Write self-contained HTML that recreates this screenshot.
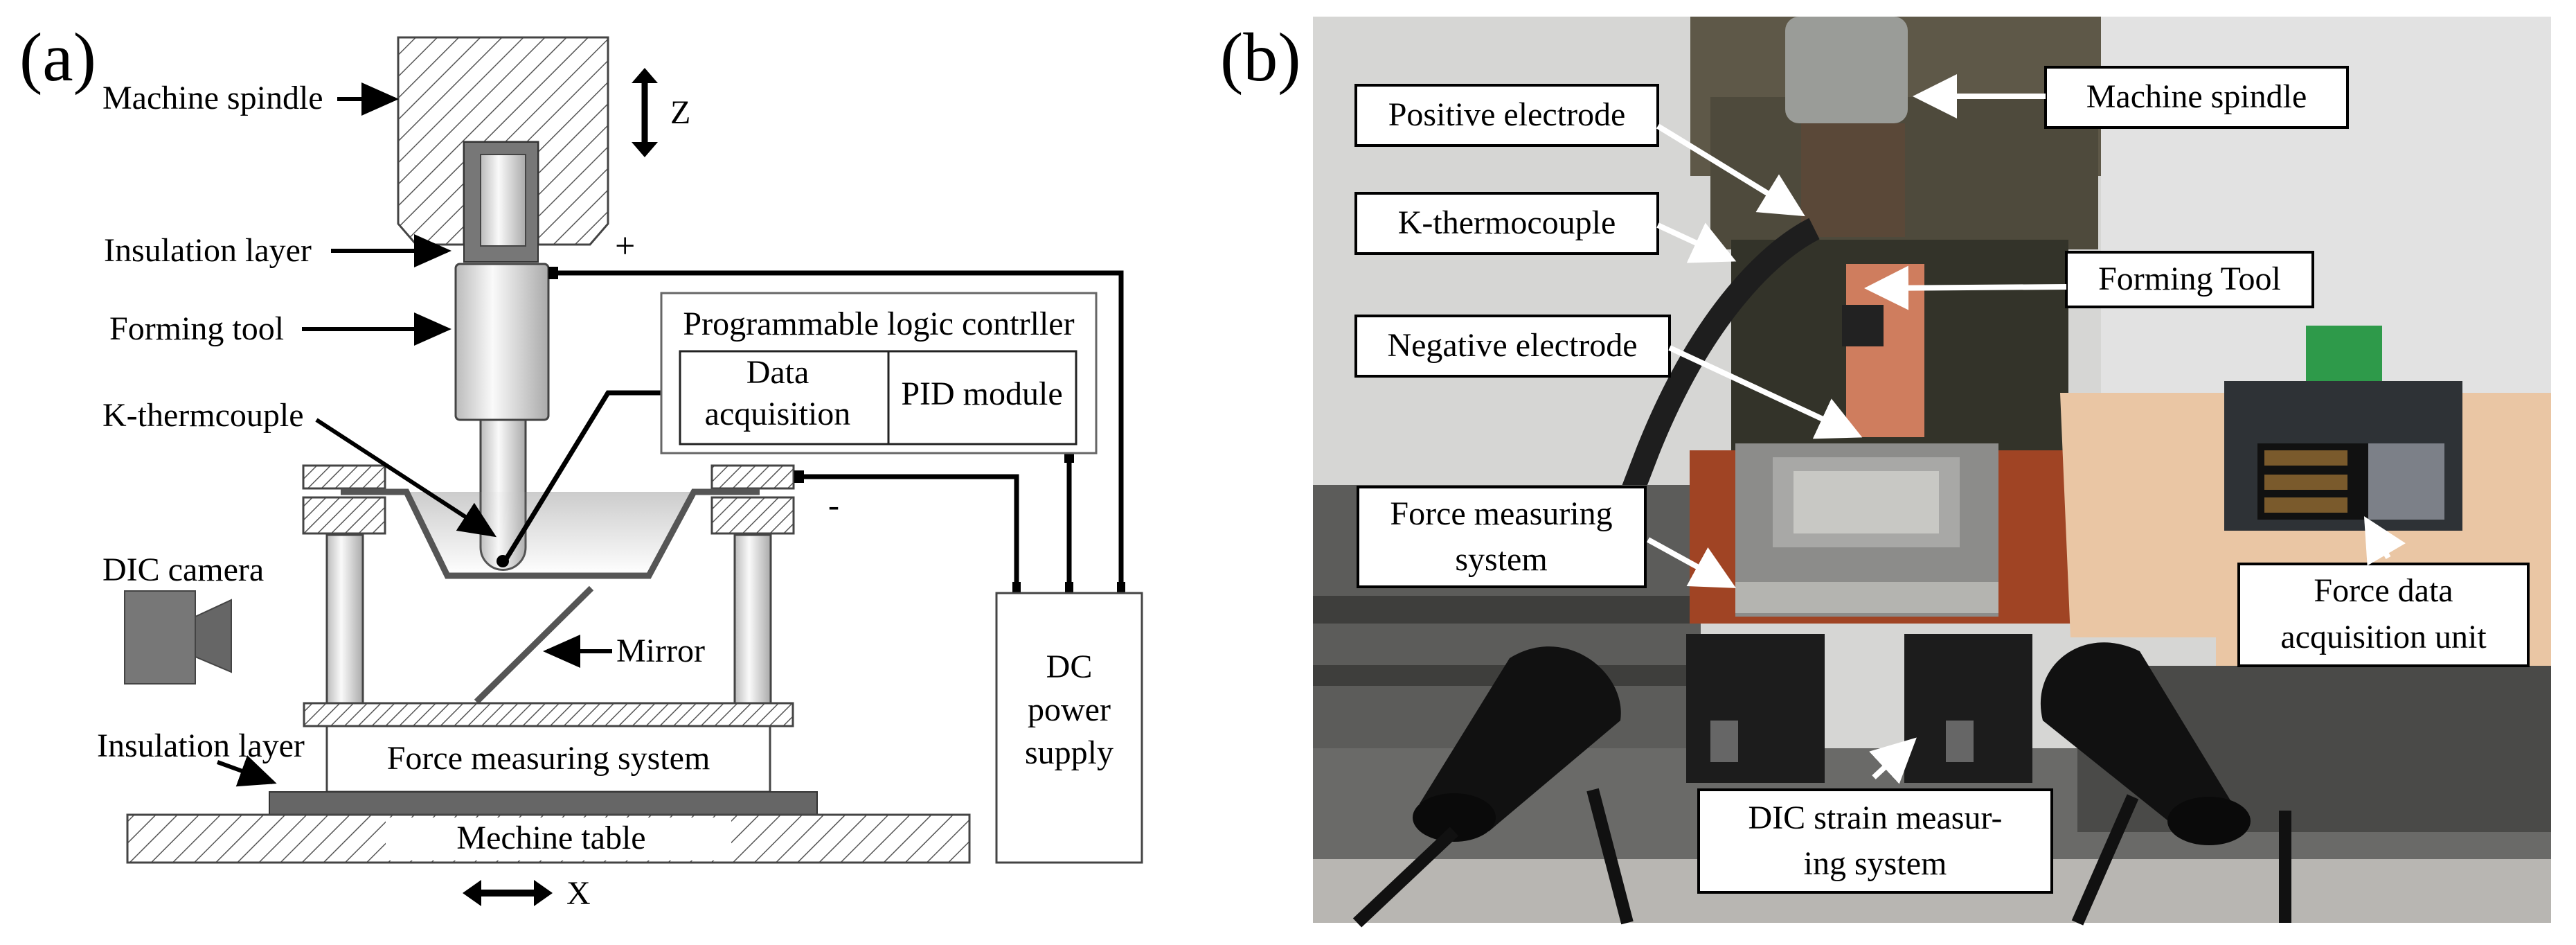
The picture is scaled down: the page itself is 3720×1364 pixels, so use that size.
<!DOCTYPE html>
<html><head><meta charset="utf-8"><style>
html,body{margin:0;padding:0;background:#fff;width:3720px;height:1364px;overflow:hidden}
svg{display:block}
svg text{font-family:"Liberation Serif","Times New Roman",serif !important;fill:#000}
</style></head><body>
<svg width="3720" height="1364" viewBox="0 0 3720 1364" xmlns="http://www.w3.org/2000/svg" font-family="Liberation Serif, serif" style="font-family:'Liberation Serif',serif">
<defs>
<pattern id="h" width="22" height="22" patternUnits="userSpaceOnUse" patternTransform="rotate(45)">
<rect width="22" height="22" fill="#fff"/><line x1="0" y1="0" x2="0" y2="22" stroke="#555" stroke-width="3"/></pattern>
<pattern id="h2" width="14" height="14" patternUnits="userSpaceOnUse" patternTransform="rotate(45)">
<rect width="14" height="14" fill="#fff"/><line x1="0" y1="0" x2="0" y2="14" stroke="#555" stroke-width="3"/></pattern>
<linearGradient id="cyl" x1="0" x2="1"><stop offset="0" stop-color="#bbb"/><stop offset="0.4" stop-color="#fafafa"/><stop offset="1" stop-color="#aaa"/></linearGradient>
<linearGradient id="bowl" x1="0" y1="0" x2="0" y2="1"><stop offset="0" stop-color="#ccc"/><stop offset="1" stop-color="#fff"/></linearGradient>
<marker id="ar" markerWidth="10" markerHeight="10" refX="8" refY="5" orient="auto" markerUnits="strokeWidth"><path d="M0,1 L9,5 L0,9 z" fill="#000"/></marker>
<marker id="aw" markerWidth="8" markerHeight="8" refX="7" refY="4" orient="auto" markerUnits="strokeWidth"><path d="M0,0 L8,4 L0,8 z" fill="#fff"/></marker>
</defs>

<!-- ===== (a) ===== -->
<text x="28" y="116" font-size="100">(a)</text>
<path d="M575,54 H878 V323 L852,353 H777 V205 H670 V353 H601 L575,323 Z" fill="url(#h)" stroke="#444" stroke-width="3"/>
<path d="M670,205 H777 V378 H670 Z" fill="#777" stroke="#333" stroke-width="2"/>
<rect x="694" y="223" width="65" height="132" fill="url(#cyl)" stroke="#444" stroke-width="2"/>
<rect x="658" y="381" width="134" height="225" rx="6" fill="url(#cyl)" stroke="#444" stroke-width="3"/>
<path d="M694,606 V790 A32,32 0 0 0 759,790 V606 Z" fill="url(#cyl)" stroke="#444" stroke-width="3"/>
<line x1="931" y1="110" x2="931" y2="215" stroke="#000" stroke-width="9"/>
<path d="M912,120 L931,98 L950,120 Z M912,205 L931,227 L950,205 Z" fill="#000"/>
<text x="968" y="178" font-size="48">Z</text>
<text x="888" y="372" font-size="52">+</text>
<rect x="438" y="672" width="118" height="33" fill="url(#h2)" stroke="#444" stroke-width="3"/>
<rect x="438" y="718" width="118" height="52" fill="url(#h2)" stroke="#444" stroke-width="3"/>
<rect x="1028" y="672" width="118" height="33" fill="url(#h2)" stroke="#444" stroke-width="3"/>
<rect x="1028" y="718" width="118" height="52" fill="url(#h2)" stroke="#444" stroke-width="3"/>
<path d="M492,710 H587 L646,831 H937 L1002,710 H1097" fill="url(#bowl)" stroke="#555" stroke-width="9"/>
<path d="M694,606 V790 A32,32 0 0 0 759,790 V606 Z" fill="url(#cyl)" stroke="#444" stroke-width="3" opacity="0.9"/>
<rect x="472" y="772" width="52" height="243" fill="url(#cyl)" stroke="#444" stroke-width="3"/>
<rect x="1061" y="772" width="52" height="243" fill="url(#cyl)" stroke="#444" stroke-width="3"/>
<line x1="854" y1="849" x2="688" y2="1013" stroke="#555" stroke-width="9"/>
<line x1="884" y1="940" x2="790" y2="940" stroke="#000" stroke-width="6" marker-end="url(#ar)"/>
<text x="890" y="955" font-size="48">Mirror</text>
<rect x="439" y="1015" width="706" height="33" fill="url(#h2)" stroke="#444" stroke-width="3"/>
<rect x="472" y="1048" width="640" height="95" fill="#fff" stroke="#444" stroke-width="3"/>
<text x="792" y="1110" font-size="48" text-anchor="middle">Force measuring system</text>
<rect x="389" y="1143" width="791" height="33" fill="#666" stroke="#333" stroke-width="2"/>
<rect x="184" y="1176" width="1216" height="69" fill="url(#h)" stroke="#444" stroke-width="3"/>
<rect x="557" y="1180" width="499" height="62" fill="#fff"/>
<text x="796" y="1225" font-size="48" text-anchor="middle">Mechine table</text>
<line x1="688" y1="1289" x2="778" y2="1289" stroke="#000" stroke-width="10"/>
<path d="M695,1270 L668,1289 L695,1308 Z M771,1270 L798,1289 L771,1308 Z" fill="#000"/>
<text x="818" y="1305" font-size="48">X</text>
<rect x="180" y="853" width="102" height="134" fill="#777" stroke="#444" stroke-width="2"/>
<path d="M282,890 L334,866 V970 L282,948 Z" fill="#666" stroke="#444" stroke-width="2"/>
<text x="148" y="838" font-size="48">DIC camera</text>
<text x="148" y="157" font-size="48">Machine spindle</text>
<line x1="487" y1="143" x2="570" y2="143" stroke="#000" stroke-width="6" marker-end="url(#ar)"/>
<text x="150" y="377" font-size="48">Insulation layer</text>
<line x1="478" y1="362" x2="646" y2="362" stroke="#000" stroke-width="6" marker-end="url(#ar)"/>
<text x="158" y="490" font-size="48">Forming tool</text>
<line x1="436" y1="475" x2="646" y2="475" stroke="#000" stroke-width="6" marker-end="url(#ar)"/>
<text x="148" y="615" font-size="48">K-thermcouple</text>
<line x1="457" y1="606" x2="712" y2="772" stroke="#000" stroke-width="6" marker-end="url(#ar)"/>
<circle cx="726" cy="810" r="9" fill="#000"/>
<text x="140" y="1092" font-size="48">Insulation layer</text>
<line x1="314" y1="1100" x2="394" y2="1129" stroke="#000" stroke-width="6" marker-end="url(#ar)"/>
<path d="M800,394 H1619 V845" fill="none" stroke="#000" stroke-width="7"/>
<rect x="792" y="385" width="14" height="18" fill="#000"/>
<path d="M726,815 L878,567 H975" fill="none" stroke="#000" stroke-width="7"/>
<rect x="970" y="558" width="14" height="18" fill="#000"/>
<path d="M1156,688 H1468 V845" fill="none" stroke="#000" stroke-width="7"/>
<rect x="1147" y="679" width="14" height="18" fill="#000"/>
<line x1="1544" y1="654" x2="1544" y2="845" stroke="#000" stroke-width="7"/>
<rect x="1462" y="840" width="12" height="16" fill="#000"/><rect x="1538" y="840" width="12" height="16" fill="#000"/><rect x="1613" y="840" width="12" height="16" fill="#000"/>
<rect x="1537" y="654" width="14" height="14" fill="#000"/>
<text x="1196" y="745" font-size="48">-</text>
<rect x="955" y="423" width="628" height="231" fill="#fff" stroke="#666" stroke-width="3"/>
<text x="1269" y="483" font-size="48" text-anchor="middle">Programmable logic contrller</text>
<rect x="982" y="507" width="572" height="134" fill="#fff" stroke="#222" stroke-width="3"/>
<line x1="1283" y1="507" x2="1283" y2="641" stroke="#222" stroke-width="3"/>
<text x="1123" y="553" font-size="48" text-anchor="middle">Data</text>
<text x="1123" y="613" font-size="48" text-anchor="middle">acquisition</text>
<text x="1418" y="584" font-size="48" text-anchor="middle">PID module</text>
<rect x="1439" y="856" width="210" height="389" fill="#fff" stroke="#444" stroke-width="3"/>
<text x="1544" y="978" font-size="48" text-anchor="middle">DC</text>
<text x="1544" y="1040" font-size="48" text-anchor="middle">power</text>
<text x="1544" y="1102" font-size="48" text-anchor="middle">supply</text>

<!-- ===== (b) ===== -->
<text x="1762" y="116" font-size="100">(b)</text>
<g>
<rect x="1896" y="24" width="1788" height="1308" fill="#d6d6d4"/>
<rect x="3034" y="24" width="650" height="600" fill="#e2e2e2"/>
<rect x="2441" y="24" width="593" height="230" fill="#5e5848"/>
<rect x="2470" y="140" width="560" height="220" fill="#4e4a3c"/>
<rect x="2500" y="346" width="487" height="330" fill="#333329"/>
<rect x="2578" y="24" width="177" height="154" rx="20" fill="#9a9c98"/>
<rect x="2601" y="178" width="150" height="164" fill="#5a4838"/>
<path d="M2620,330 C2560,360 2460,450 2380,650 L2330,780" stroke="#1e1e1e" stroke-width="34" fill="none"/>
<rect x="2666" y="381" width="113" height="250" fill="#cf7d5e"/>
<rect x="2660" y="440" width="60" height="60" fill="#222"/>
<rect x="1896" y="700" width="560" height="632" fill="#5c5c5a"/>
<rect x="1896" y="860" width="560" height="40" fill="#3e3e3c"/>
<rect x="1896" y="960" width="560" height="30" fill="#3e3e3c"/>
<rect x="2440" y="650" width="560" height="250" fill="#a04424"/>
<rect x="2506" y="640" width="380" height="250" fill="#8c8c8a"/>
<rect x="2560" y="660" width="270" height="130" fill="#a8a8a6"/>
<rect x="2590" y="680" width="210" height="90" fill="#c8c8c4"/>
<rect x="2506" y="840" width="380" height="45" fill="#b4b4b0"/>
<path d="M2975,567 H3684 V961 H3200 V920 H2990 Z" fill="#eac6a4"/>
<rect x="3212" y="550" width="344" height="216" fill="#2e3236"/>
<rect x="3260" y="640" width="160" height="110" fill="#111"/>
<rect x="3420" y="640" width="110" height="110" fill="#7c8088"/>
<rect x="3270" y="650" width="120" height="22" fill="#7a5a2c"/><rect x="3270" y="685" width="120" height="22" fill="#7a5a2c"/><rect x="3270" y="718" width="120" height="22" fill="#7a5a2c"/>
<rect x="3330" y="470" width="110" height="80" fill="#2e9a4a"/>
<rect x="1896" y="1080" width="1788" height="252" fill="#6a6a68"/>
<rect x="1896" y="1240" width="1788" height="92" fill="#b8b6b2"/>
<rect x="3000" y="961" width="684" height="240" fill="#4a4a48"/>
<rect x="2435" y="915" width="200" height="215" fill="#1c1c1c"/>
<rect x="2750" y="915" width="185" height="215" fill="#1c1c1c"/>
<rect x="2470" y="1040" width="40" height="60" fill="#666"/><rect x="2810" y="1040" width="40" height="60" fill="#666"/>
<path d="M2050,1160 L2180,950 C2260,900 2350,970 2340,1040 L2150,1200 Z" fill="#111"/>
<ellipse cx="2100" cy="1180" rx="60" ry="35" fill="#0a0a0a"/>
<path d="M3230,1170 L3090,940 C3010,900 2930,960 2950,1040 L3150,1200 Z" fill="#111"/>
<ellipse cx="3190" cy="1185" rx="60" ry="35" fill="#0a0a0a"/>
<path d="M2100,1200 L1960,1332 M2300,1140 L2350,1332 M3080,1150 L3000,1332 M3300,1170 L3300,1332" stroke="#111" stroke-width="18"/>
</g>
<g>
<rect x="2954" y="97" width="436" height="87" fill="#fff" stroke="#000" stroke-width="4"/>
<text x="3172" y="155" font-size="48" text-anchor="middle">Machine spindle</text>
<line x1="2954" y1="139" x2="2770" y2="139" stroke="#fff" stroke-width="8" marker-end="url(#aw)"/>
<rect x="1958" y="123" width="436" height="87" fill="#fff" stroke="#000" stroke-width="4"/>
<text x="2176" y="181" font-size="48" text-anchor="middle">Positive electrode</text>
<line x1="2394" y1="182" x2="2600" y2="308" stroke="#fff" stroke-width="8" marker-end="url(#aw)"/>
<rect x="1958" y="279" width="436" height="87" fill="#fff" stroke="#000" stroke-width="4"/>
<text x="2176" y="337" font-size="48" text-anchor="middle">K-thermocouple</text>
<line x1="2394" y1="325" x2="2500" y2="374" stroke="#fff" stroke-width="8" marker-end="url(#aw)"/>
<rect x="2984" y="364" width="356" height="79" fill="#fff" stroke="#000" stroke-width="4"/>
<text x="3162" y="418" font-size="48" text-anchor="middle">Forming Tool</text>
<line x1="2984" y1="414" x2="2700" y2="416" stroke="#fff" stroke-width="8" marker-end="url(#aw)"/>
<rect x="1958" y="456" width="453" height="87" fill="#fff" stroke="#000" stroke-width="4"/>
<text x="2184" y="514" font-size="48" text-anchor="middle">Negative electrode</text>
<line x1="2411" y1="502" x2="2682" y2="628" stroke="#fff" stroke-width="8" marker-end="url(#aw)"/>
<rect x="1961" y="703" width="415" height="144" fill="#fff" stroke="#000" stroke-width="4"/>
<text x="2168" y="757" font-size="48" text-anchor="middle">Force measuring</text>
<text x="2168" y="823" font-size="48" text-anchor="middle">system</text>
<line x1="2380" y1="779" x2="2500" y2="845" stroke="#fff" stroke-width="8" marker-end="url(#aw)"/>
<rect x="3233" y="814" width="418" height="147" fill="#fff" stroke="#000" stroke-width="4"/>
<text x="3442" y="868" font-size="48" text-anchor="middle">Force data</text>
<text x="3442" y="935" font-size="48" text-anchor="middle">acquisition unit</text>
<line x1="3449" y1="805" x2="3418" y2="752" stroke="#fff" stroke-width="8" marker-end="url(#aw)"/>
<rect x="2453" y="1140" width="510" height="148" fill="#fff" stroke="#000" stroke-width="4"/>
<text x="2708" y="1196" font-size="48" text-anchor="middle">DIC strain measur-</text>
<text x="2708" y="1262" font-size="48" text-anchor="middle">ing system</text>
<line x1="2706" y1="1122" x2="2762" y2="1070" stroke="#fff" stroke-width="8" marker-end="url(#aw)"/>
</g>
</svg>
</body></html>
